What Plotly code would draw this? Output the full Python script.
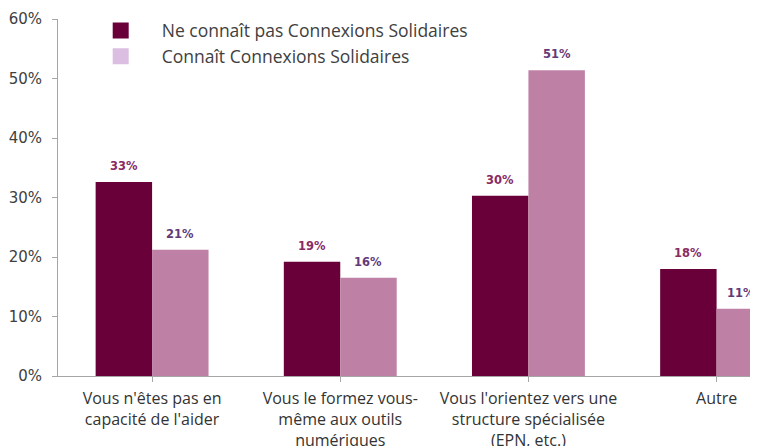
import plotly.graph_objects as go

categories = ["Vous n'êtes pas en<br>capacité de l'aider",
              "Vous le formez vous-<br>même aux outils<br>numériques",
              "Vous l'orientez vers une<br>structure spécialisée<br>(EPN, etc.)",
              "Autre"]
series_names = ["Ne connaît pas Connexions Solidaires", "Connaît Connexions Solidaires"]
ne_connait_pas = [32.6, 19.2, 30.3, 18.0]
connait = [21.2, 16.5, 51.4, 11.3]
labels_ne = ["33%", "19%", "30%", "18%"]
labels_c = ["21%", "16%", "51%", "11%"]
y_ticks = [0, 10, 20, 30, 40, 50, 60]

dark = "#6A0039"
light = "#BE80A4"
legend_light = "#DCBEE2"
lab_dark = "#8A2A62"
lab_light = "#633A78"

X_MAX = 3.22          # right end of the visible category range (chart is cropped)
LABEL_HALF = 0.09     # half width of a value label, in category units

fig = go.Figure()
fig.add_trace(go.Bar(x=list(range(4)), y=ne_connait_pas, marker_color=dark,
                     marker_line_width=0, showlegend=False))
fig.add_trace(go.Bar(x=list(range(4)), y=connait, marker_color=light,
                     marker_line_width=0, showlegend=False))
# legend-only entries
fig.add_trace(go.Scatter(x=[None], y=[None], mode="markers", name=series_names[0],
                         legendgroup="a",
                         marker=dict(symbol="square", size=16, color=dark)))
fig.add_trace(go.Scatter(x=[None], y=[None], mode="markers", name=series_names[1],
                         legendgroup="b",
                         marker=dict(symbol="square", size=16, color=legend_light)))

for i in range(4):
    fig.add_annotation(x=i - 0.15, y=ne_connait_pas[i], text=f"<b>{labels_ne[i]}</b>",
                       showarrow=False, yshift=16, font=dict(size=11.5, color=lab_dark,
                       family="DejaVu Sans"))
    fig.add_annotation(x=min(i + 0.15, X_MAX - LABEL_HALF), y=connait[i],
                       text=f"<b>{labels_c[i]}</b>",
                       showarrow=False, yshift=16, font=dict(size=11.5, color=lab_light,
                       family="DejaVu Sans"))

# page body has an 8px default margin: the figure is sized to fill the rest
fig.update_layout(
    width=750, height=438,
    margin=dict(l=50, r=0, t=11, b=70),
    paper_bgcolor="white", plot_bgcolor="white",
    barmode="group", bargap=0.4, bargroupgap=0,
    legend=dict(x=0.031, y=1.018, xanchor="left", yanchor="top",
                font=dict(size=17.5, color="#404040", family="Open Sans"),
                itemsizing="trace", itemwidth=72, bgcolor="rgba(0,0,0,0)",
                traceorder="grouped", tracegroupgap=0),
    font=dict(family="Open Sans", color="#404040"),
)
fig.update_xaxes(
    range=[-0.5, X_MAX], tickmode="array", tickvals=list(range(4)), ticktext=categories,
    showline=True, linecolor="#A6A6A6", linewidth=1,
    ticks="outside", tickson="boundaries", ticklen=5, tickcolor="#A6A6A6",
    ticklabelstandoff=3,
    tickfont=dict(size=16, color="#333333", family="Open Sans"),
    showgrid=False, zeroline=False, fixedrange=True, automargin=False,
)
fig.update_yaxes(
    range=[0, 60], tickmode="array", tickvals=y_ticks,
    ticktext=[f"{v}%" for v in y_ticks],
    showline=True, linecolor="#A6A6A6", linewidth=1,
    ticks="outside", ticklen=5, tickcolor="#A6A6A6", ticklabelstandoff=7,
    tickfont=dict(size=15, color="#404040", family="DejaVu Sans"),
    showgrid=False, zeroline=False, automargin=False,
)

fig.write_html("out.html")
